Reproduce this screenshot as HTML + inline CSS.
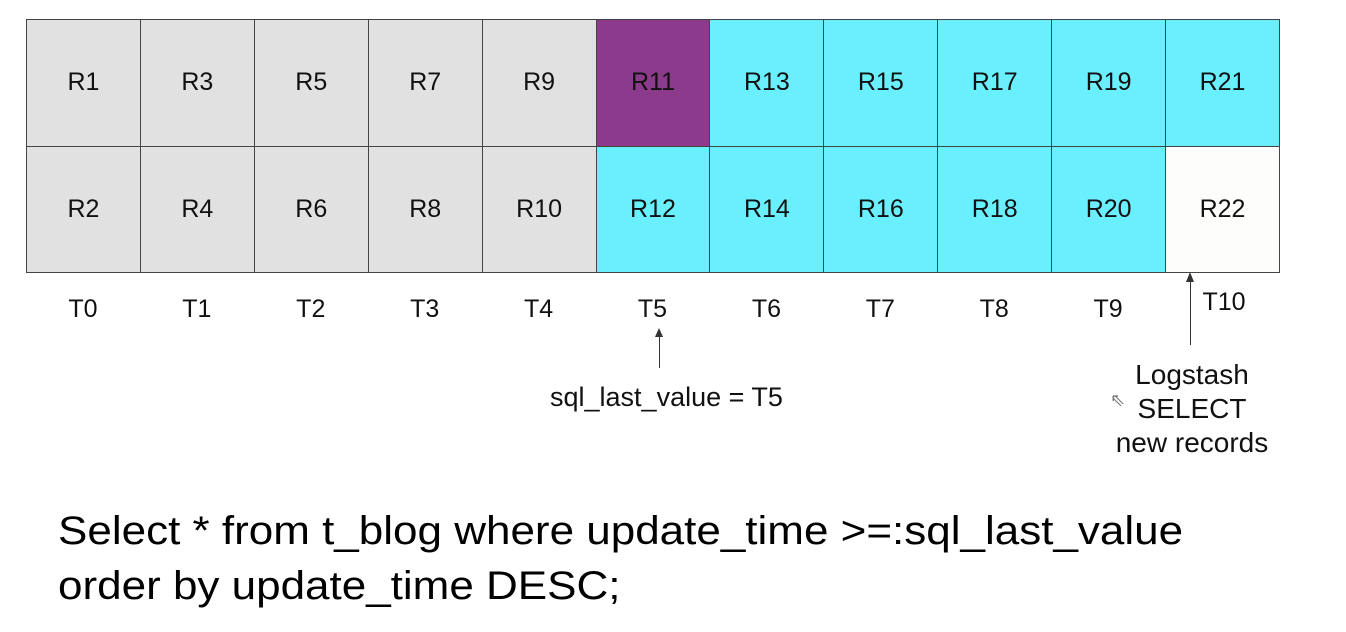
<!DOCTYPE html>
<html><head><meta charset="utf-8"><style>
body{margin:0;width:1346px;height:632px;background:#fff;position:relative;overflow:hidden;font-family:"Liberation Sans",sans-serif;color:#111}
.cell{position:absolute;box-sizing:border-box;border:1px solid #444;display:flex;align-items:center;justify-content:center;font-size:25px}
.t{position:absolute;font-size:25px;transform:translateX(-50%);top:295px}
.abs{position:absolute}
</style></head><body>
<div id="grid"></div>
<div id="times"></div>
<div class="abs" style="left:659px;top:330px;width:1px;height:38px;background:#333"></div>
<div class="abs" style="left:655px;top:328px;width:0;height:0;border-left:4px solid transparent;border-right:4px solid transparent;border-bottom:9px solid #333"></div>
<div class="abs" style="left:550px;top:382px;font-size:27px">sql_last_value = T5</div>
<div class="abs" style="left:1190px;top:275px;width:1px;height:70px;background:#333"></div>
<div class="abs" style="left:1186px;top:272px;width:0;height:0;border-left:4px solid transparent;border-right:4px solid transparent;border-bottom:10px solid #333"></div>
<div class="abs" style="left:1092px;top:358px;width:200px;text-align:center;font-size:28px;line-height:34px">Logstash<br>SELECT<br>new records</div>
<div class="abs" style="left:1110px;top:390px;font-size:18px;color:#777">⇖</div>
<div class="abs" style="left:58px;top:504px;font-size:40px;line-height:55px;color:#000;transform:scaleX(1.1);transform-origin:left top;white-space:nowrap">Select * from t_blog where update_time &gt;=:sql_last_value<br>order by update_time DESC;</div>
<script>
const topRow=["R1","R3","R5","R7","R9","R11","R13","R15","R17","R19","R21"];
const botRow=["R2","R4","R6","R8","R10","R12","R14","R16","R18","R20","R22"];
const topState=["old","old","old","old","old","last","new","new","new","new","new"];
const botState=["old","old","old","old","old","new","new","new","new","new","pending"];
const timeLabels=["T0","T1","T2","T3","T4","T5","T6","T7","T8","T9","T10"];
const colors={old:"#e1e1e1",last:"#8b3a8c",new:"#6aefff",pending:"#fdfdfb"};
const x0=26,x1=1279,y0=19,rowH=126.5,cw=(x1-x0)/topRow.length;
const g=document.getElementById('grid');
[[topRow,topState],[botRow,botState]].forEach(([labels,states],r)=>{
 labels.forEach((lab,i)=>{
  const d=document.createElement('div');
  d.className='cell';
  
  
  d.style.left=(x0+i*cw)+'px';d.style.top=(y0+r*rowH)+'px';
  d.style.width=(cw+1)+'px';d.style.height=(rowH+1)+'px';
  d.style.background=colors[states[i]];
  d.textContent=lab;g.appendChild(d);
 });
});
const tm=document.getElementById('times');
timeLabels.forEach((t,i)=>{
 const d=document.createElement('div');
 d.className='t';
 
 
 let cx=x0+(i+0.5)*cw;
 if(i===timeLabels.length-1){cx+=2;d.style.top='288px';}
 d.style.left=cx+'px';d.textContent=t;tm.appendChild(d);
});
</script>
</body></html>
